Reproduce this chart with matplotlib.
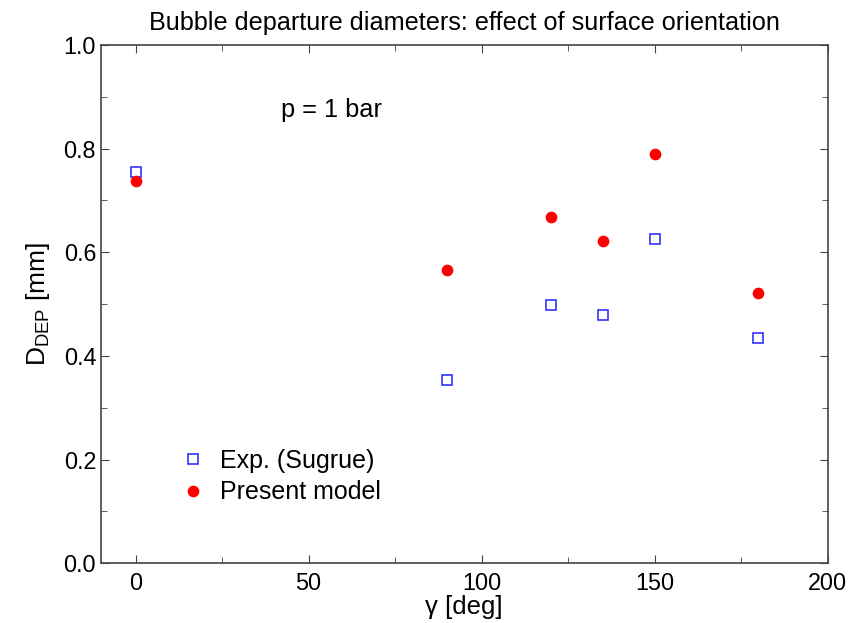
import matplotlib
matplotlib.use("Agg")
import matplotlib.pyplot as plt
from matplotlib.ticker import MultipleLocator

plt.rcParams['font.family'] = ['Liberation Sans', 'DejaVu Sans']
plt.rcParams['mathtext.default'] = 'regular'

angles = [0, 90, 120, 135, 150, 180]
exp_sugrue = [0.755, 0.353, 0.498, 0.479, 0.625, 0.435]
present_model = [0.737, 0.565, 0.668, 0.622, 0.790, 0.521]

fig = plt.figure(figsize=(8.48, 6.23), dpi=100)
ax = fig.add_axes([0.119, 0.096, 0.857, 0.832])

ax.plot(angles, exp_sugrue, linestyle='none', marker='s', markersize=6.8,
        markerfacecolor='white', markeredgecolor='#3333ff', markeredgewidth=1.2,
        label='Exp. (Sugrue)')
ax.plot(angles, present_model, linestyle='none', marker='o', markersize=7.4,
        color='#ff0000', label='Present model')

ax.set_xlim(-10, 200)
ax.set_ylim(0, 1.0)
ax.xaxis.set_major_locator(MultipleLocator(50))
ax.xaxis.set_minor_locator(MultipleLocator(25))
ax.yaxis.set_major_locator(MultipleLocator(0.2))
ax.yaxis.set_minor_locator(MultipleLocator(0.1))
ax.yaxis.set_major_formatter(matplotlib.ticker.FormatStrFormatter('%.1f'))
ax.tick_params(which='both', direction='in', top=True, right=True, labelsize=16.8, color='#444444')
ax.tick_params(which='major', length=6)
ax.tick_params(which='minor', length=4)
ax.tick_params(axis='x', pad=6)
for s in ax.spines.values():
    s.set_color('#444444')
    s.set_linewidth(1.2)

ax.set_xlabel('γ [deg]', fontsize=18.5, labelpad=0)
ax.set_ylabel('$D_{DEP}$ [mm]', fontsize=19, labelpad=8)
ax.set_title('Bubble departure diameters: effect of surface orientation', fontsize=18.2, pad=11)
ax.text(42, 0.86, 'p = 1 bar', fontsize=18.3)

ax.legend(loc='lower left', bbox_to_anchor=(0.075, 0.07), frameon=False, fontsize=18,
          handletextpad=0.5, labelspacing=0.3, handlelength=1.2)

fig.savefig('out.png', dpi=100)
